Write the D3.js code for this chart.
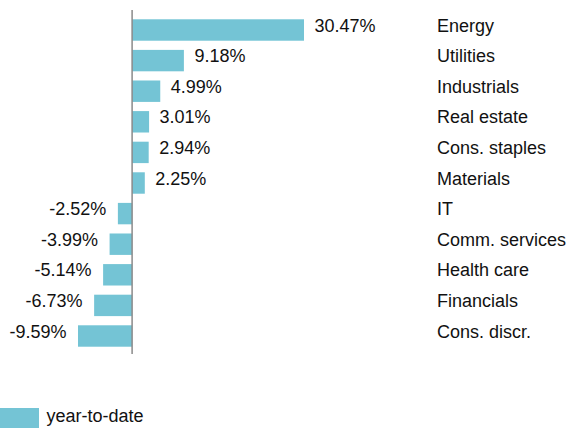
<!DOCTYPE html>
<html>
<head>
<meta charset="utf-8">
<script src="https://cdn.jsdelivr.net/npm/d3@7"></script>
<style>
  html, body { margin: 0; padding: 0; background: #fff; }
  svg { display: block; }
  text { font-family: "Liberation Sans", Arial, Helvetica, sans-serif; fill: #111; }
</style>
</head>
<body>
<div id="chart"></div>
<script>
const categories = ["Energy", "Utilities", "Industrials", "Real estate", "Cons. staples", "Materials", "IT", "Comm. services", "Health care", "Financials", "Cons. discr."];
const values = [30.47, 9.18, 4.99, 3.01, 2.94, 2.25, -2.52, -3.99, -5.14, -6.73, -9.59];
const seriesName = "year-to-date";

const W = 566, H = 428;
const barColor = "#74c4d5";
const fontSize = 18;

const data = categories.map((c, i) => ({ cat: c, val: values[i] }));

const svg = d3.select("#chart").append("svg").attr("width", W).attr("height", H);

const x = d3.scaleLinear().domain([d3.min(values), d3.max(values)]).range([78, 304]);
const y = d3.scaleBand().domain(categories).range([14.7, 351.3]).paddingInner(0.3).paddingOuter(0.15);

svg.append("g").selectAll("rect").data(data).join("rect")
  .attr("x", d => x(Math.min(0, d.val)))
  .attr("y", d => y(d.cat))
  .attr("width", d => Math.abs(x(d.val) - x(0)))
  .attr("height", y.bandwidth())
  .attr("fill", barColor);

// zero axis line
svg.append("line")
  .attr("x1", x(0)).attr("x2", x(0))
  .attr("y1", 10).attr("y2", 354)
  .attr("stroke", "#8a8a8a").attr("stroke-width", 1.5);

// value labels
svg.append("g").selectAll("text").data(data).join("text")
  .attr("x", d => d.val >= 0 ? x(d.val) + 10.5 : x(d.val) - 11.5)
  .attr("y", d => y(d.cat) + y.bandwidth() / 2 + 1.5)
  .attr("text-anchor", d => d.val >= 0 ? "start" : "end")
  .attr("font-size", fontSize)
  .text(d => d.val.toFixed(2) + "%");

// category labels
svg.append("g").selectAll("text").data(data).join("text")
  .attr("x", 437)
  .attr("y", d => y(d.cat) + y.bandwidth() / 2 + 1.5)
  .attr("font-size", fontSize)
  .text(d => d.cat);

// legend
svg.append("rect").attr("x", 0).attr("y", 408).attr("width", 39).attr("height", 20).attr("fill", barColor);
svg.append("text").attr("x", 46.5).attr("y", 422).attr("font-size", fontSize).text(seriesName);
</script>
</body>
</html>
